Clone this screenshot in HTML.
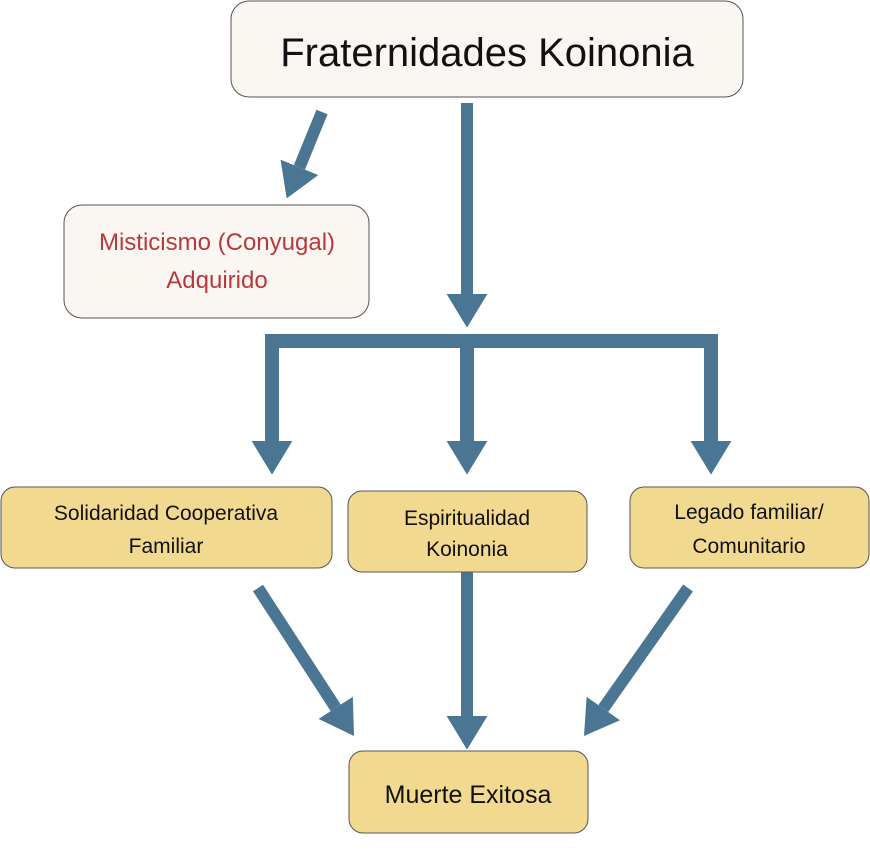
<!DOCTYPE html>
<html><head><meta charset="utf-8"><style>body{margin:0;background:#fff}svg{display:block}</style></head><body>
<svg width="870" height="858" viewBox="0 0 870 858" xmlns="http://www.w3.org/2000/svg" font-family="'Liberation Sans', sans-serif">
<defs>
<marker id="h" markerUnits="strokeWidth" markerWidth="3" markerHeight="3.4" refX="0" refY="1.7" orient="auto">
<path d="M0,0 L2.8,1.7 L0,3.4z" fill="#4a7693"/></marker>
</defs>
<g stroke="#4a7693" stroke-width="12" fill="none">
<line x1="322" y1="112" x2="299.4" y2="167.3" marker-end="url(#h)"/>
<line x1="467" y1="103" x2="467" y2="294" marker-end="url(#h)"/>
<path d="M272,455 V341 H711 V455 M467,341 V455" stroke-width="14"/>
<line x1="272" y1="440" x2="272" y2="441" marker-end="url(#h)"/>
<line x1="467" y1="440" x2="467" y2="441" marker-end="url(#h)"/>
<line x1="711" y1="440" x2="711" y2="441" marker-end="url(#h)"/>
<line x1="258" y1="588" x2="335.7" y2="707.8" marker-end="url(#h)"/>
<line x1="467" y1="570" x2="467" y2="716" marker-end="url(#h)"/>
<line x1="688" y1="588" x2="603.3" y2="708.5" marker-end="url(#h)"/>
</g>
<rect x="231" y="1" width="512" height="96" rx="18" fill="#faf7f2" stroke="#555"/>
<text x="487" y="66" font-size="40" text-anchor="middle" fill="#111">Fraternidades Koinonia</text>
<rect x="64" y="205" width="305" height="113" rx="18" fill="#faf7f2" stroke="#555"/>
<g fill="#b8393b" font-size="24" text-anchor="middle"><text x="217" y="250">Misticismo (Conyugal)</text><text x="217" y="288">Adquirido</text></g>
<g fill="#f2d990" stroke="#555">
<rect x="1" y="487" width="331" height="81" rx="14"/>
<rect x="348" y="491" width="239" height="81" rx="14"/>
<rect x="630" y="487" width="239" height="81" rx="14"/>
<rect x="349" y="751" width="239" height="82" rx="14"/>
</g>
<g fill="#111" font-size="21" text-anchor="middle">
<text x="166" y="520">Solidaridad Cooperativa</text><text x="166" y="553">Familiar</text>
<text x="467" y="525">Espiritualidad</text><text x="467" y="556">Koinonia</text>
<text x="749" y="519">Legado familiar/</text><text x="749" y="553">Comunitario</text>
<text x="468" y="803" font-size="25">Muerte Exitosa</text>
</g>
</svg>
</body></html>
